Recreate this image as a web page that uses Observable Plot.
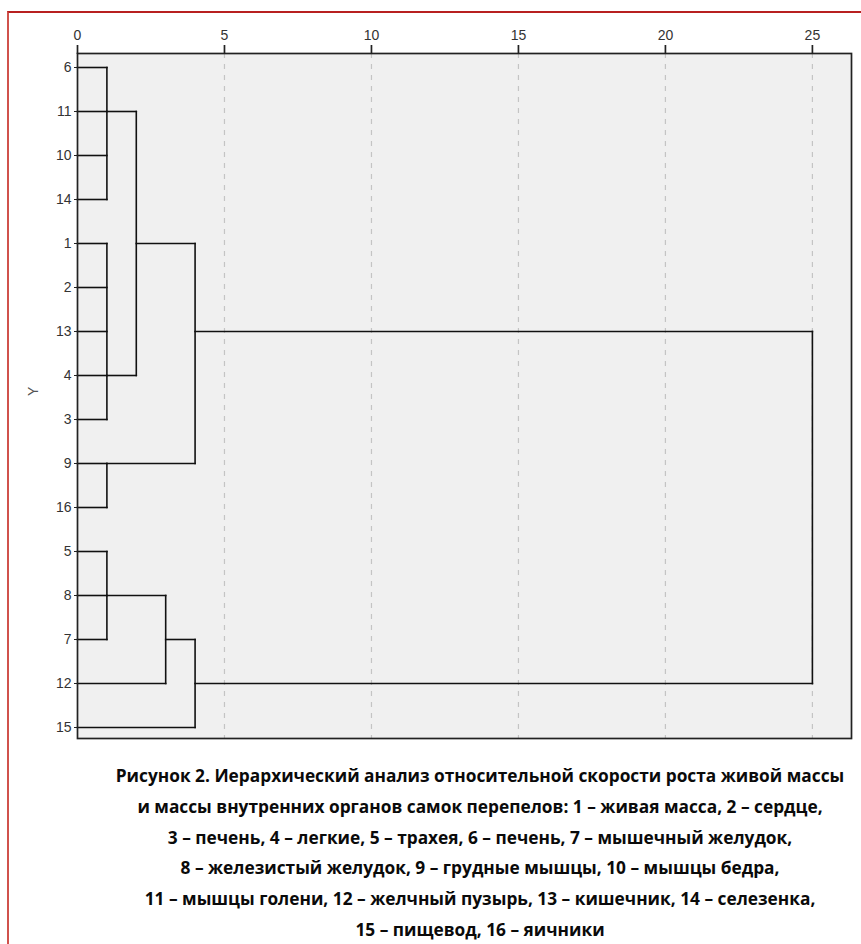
<!DOCTYPE html>
<html>
<head>
<meta charset="utf-8">
<script src="https://cdn.jsdelivr.net/npm/d3@7"></script>
<script src="https://cdn.jsdelivr.net/npm/@observablehq/plot@0.6"></script>
<style>
  html, body { margin: 0; padding: 0; background: #fff; width: 861px; height: 944px; overflow: hidden; }
  #frame { position: absolute; left: 7px; top: 11px; width: 900px; height: 1000px;
           border-left: 2px solid #d0524c; border-top: 2px solid #b82020; }
  #chart { position: absolute; left: 0; top: 0; }
  #caption { position: absolute; left: 50px; width: 860px; top: 761px; text-align: center;
             font-family: "Open Sans", sans-serif; font-weight: 700; font-size: 17.3px;
             line-height: 30.8px; color: #0a0a0a; }
</style>
</head>
<body>
<div id="frame"></div>
<div id="chart"></div>
<div id="caption">Рисунок 2. Иерархический анализ относительной скорости роста живой массы<br>и массы внутренних органов самок перепелов: 1 – живая масса, 2 – сердце,<br>3 – печень, 4 – легкие, 5 – трахея, 6 – печень, 7 – мышечный желудок,<br>8 – железистый желудок, 9 – грудные мышцы, 10 – мышцы бедра,<br>11 – мышцы голени, 12 – желчный пузырь, 13 – кишечник, 14 – селезенка,<br>15 – пищевод, 16 – яичники</div>
<script>
// Leaf order (top to bottom) as shown on the Y axis
const leafOrder = ["6","11","10","14","1","2","13","4","3","9","16","5","8","7","12","15"];
// Distance-axis tick values
const xTicks = [0, 5, 10, 15, 20, 25];
// Clusters: id, members (leaves or cluster ids), merge distance, row where its link leaves
const clusterIds      = ["A", "B", "AB", "C", "ABC", "D", "D12", "D1215", "root"];
const clusterChildren = [
  ["6","11","10","14"],
  ["1","2","13","4","3"],
  ["A","B"],
  ["9","16"],
  ["AB","C"],
  ["5","8","7"],
  ["D","12"],
  ["D12","15"],
  ["ABC","D1215"]
];
const clusterHeights  = [1, 1, 2, 1, 4, 1, 3, 4, 25];
const clusterRows     = ["11", "4", "1", "9", "13", "8", "7", "12", null];

// Build link segments from the tree
const info = new Map(leafOrder.map(l => [l, {h: 0, row: l}]));
clusterIds.forEach((id, i) => info.set(id, {h: clusterHeights[i], row: clusterRows[i]}));
const segments = [];
clusterIds.forEach((id, i) => {
  const h = clusterHeights[i];
  const kids = clusterChildren[i].map(c => info.get(c));
  kids.forEach(k => segments.push({x1: k.h, x2: h, y1: k.row, y2: k.row}));
  const rows = kids.map(k => k.row).sort((a, b) => leafOrder.indexOf(a) - leafOrder.indexOf(b));
  segments.push({x1: h, x2: h, y1: rows[0], y2: rows[rows.length - 1]});
});

const chart = Plot.plot({
  width: 861,
  height: 750,
  marginLeft: 77,
  marginRight: 10,
  marginTop: 53,
  marginBottom: 12,
  style: {fontFamily: "Liberation Sans, Arial, sans-serif", fontSize: "14px", color: "#333", background: "transparent"},
  x: {domain: [0, 26.33], axis: null},
  y: {type: "point", domain: leafOrder, padding: 0, insetTop: 8, insetBottom: 6, axis: null},
  marks: [
    Plot.frame({fill: "#f0f0f0", stroke: null}),
    Plot.ruleX(xTicks.filter(d => d > 0), {stroke: "#c4c4c4", strokeWidth: 1.2, strokeDasharray: "5,6"}),
    Plot.link(segments, {x1: "x1", x2: "x2", y1: "y1", y2: "y2", stroke: "#111", strokeWidth: 1.6, strokeLinecap: "square"}),
    Plot.frame({stroke: "#222", strokeWidth: 1.7}),
    Plot.axisX(xTicks, {anchor: "top", tickSize: 9, tickPadding: 5, stroke: "#222", strokeWidth: 1.7, fontSize: 14, fill: "#333", label: null}),
    Plot.axisY(leafOrder, {anchor: "left", tickSize: 3, tickPadding: 3, stroke: "#222", fontSize: 14, fill: "#333", label: null}),
    Plot.text(["Y"], {frameAnchor: "left", dx: -44, rotate: -90, fontSize: 14, fill: "#555"})
  ]
});
document.getElementById("chart").appendChild(chart);
</script>
</body>
</html>
